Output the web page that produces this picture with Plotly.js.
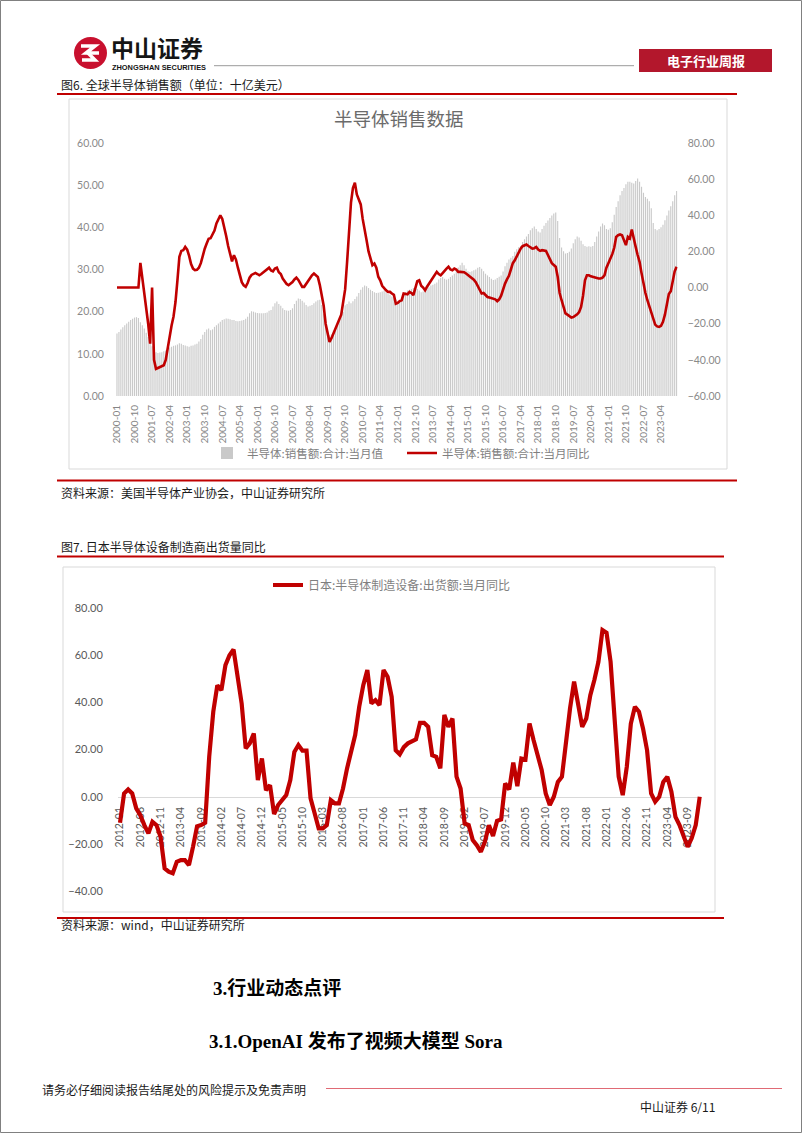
<!DOCTYPE html>
<html><head><meta charset="utf-8">
<script src="https://cdn.plot.ly/plotly-3.0.1.min.js"></script>
<style>html,body{margin:0;padding:0;background:#fff}#page{width:802px;height:1133px}</style>
</head><body><div id="page"></div>
<script>
// ---------- Chart 1: 全球半导体销售额 (2000-01 .. 2023-12) ----------
const salesYears = [2000, 2023];
const salesValue = [
  14.8,15.2,15.8,16.3,16.8,17.2,17.6,18.0,18.3,18.6,18.7,18.5,
  17.5,16.8,16.0,15.0,14.0,12.8,11.8,11.0,10.4,10.2,10.3,10.4,
  10.6,10.8,11.2,11.5,11.7,11.9,12.0,12.2,12.5,12.4,12.1,12.0,
  11.8,11.7,11.9,12.0,12.2,12.4,12.9,13.5,14.5,15.2,15.8,16.0,
  15.6,15.8,16.4,16.8,17.2,17.6,18.0,18.2,18.4,18.3,18.2,18.0,
  18.0,17.8,17.7,17.8,17.9,18.0,18.3,18.8,19.6,20.1,20.0,19.8,
  19.7,19.6,19.6,19.6,19.7,19.8,20.2,20.4,21.2,22.0,22.4,21.8,
  21.4,20.8,20.4,20.3,20.2,20.4,20.8,21.8,22.6,23.1,23.0,22.6,
  22.2,21.6,21.2,21.4,21.6,22.0,22.4,22.7,22.8,21.6,19.5,17.0,
  15.3,14.4,14.6,15.5,16.2,17.0,17.9,18.8,20.0,21.5,21.8,22.4,
  22.0,22.5,23.0,23.6,24.4,25.2,25.8,26.2,26.0,25.6,25.2,24.9,
  24.6,24.4,24.5,24.6,24.8,25.0,24.6,24.2,24.0,23.6,23.2,22.8,
  22.5,22.4,23.0,23.8,24.6,25.0,25.2,25.4,25.6,25.8,25.4,25.0,
  24.6,24.8,25.2,25.6,25.8,26.2,26.4,26.6,26.9,27.6,28.0,28.2,
  27.8,27.6,27.8,28.2,28.6,29.0,29.8,30.5,31.0,31.6,31.0,30.2,
  29.6,29.4,29.6,29.8,30.0,30.4,30.6,30.2,29.6,29.0,28.6,28.2,
  27.8,27.5,27.6,28.0,28.3,28.6,29.5,30.8,31.6,32.4,32.8,33.2,
  34.2,34.8,35.3,35.6,36.5,37.2,37.8,38.4,39.3,39.8,40.2,39.6,
  39.0,38.8,39.6,40.4,41.0,41.6,42.2,42.8,43.3,43.5,41.5,37.5,
  35.2,34.3,33.8,33.9,34.2,35.0,36.2,37.2,37.8,37.6,36.8,36.0,
  35.6,35.4,35.5,35.4,35.6,36.5,37.8,39.0,40.2,40.9,40.5,39.6,
  39.4,39.8,41.2,43.0,44.8,46.2,47.6,48.6,49.3,50.2,50.8,50.8,
  50.6,50.4,51.0,51.6,50.8,49.6,48.2,47.2,46.8,46.2,44.5,41.0,
  39.6,39.3,39.6,40.0,40.6,41.7,42.8,44.0,45.0,46.2,47.6,48.6
];
const salesYoY = [
  0,0,0,0,0,0,0,0,0,0,0,0,
  13.7,6,-2,-10,-20,-31,0,-40,-45,-44.5,-44,-43.5,
  -43,-40,-33,-27,-21,-16,-8,4,17,20.3,20.7,22.5,
  21,17.5,13,10.5,9.6,9.8,11,13.5,18,21.5,24.4,27,
  27.3,29.5,31.5,35.5,37.5,40,38,34,28.5,23,18.8,14.5,
  17.9,15.5,11,7.5,3,1.2,0.4,2.5,5.5,7,7.8,8.1,
  7.5,6.8,7.5,8.5,9,10.2,11,9.5,9,10.5,11,8.5,
  7.5,5,3.1,2,1.3,2,3.1,4.5,5.5,4.2,2,0.4,
  0.4,2,4,5.9,6.8,7.8,7,5.9,1.5,-3.3,-10,-20,
  -26,-30.1,-28,-25.5,-23,-20.5,-18,-15,-8,-1,14,33,
  47,55,58,51.5,49,46,38,31,26.2,20,15.5,12.4,
  13.3,11,6,4,1,-0.6,-1.5,-2.4,-2.4,-3.3,-4,-8.9,
  -8.5,-7.5,-7,-3.3,-3.5,-3.7,-2.4,-3,-4.2,0,3.5,4,
  1,0,-1.5,0.5,2.2,4,5.9,7.5,8.7,7.5,6.8,8,
  9.5,10.5,11.5,10,9.6,10.5,10,8.7,8.7,8.7,8.5,7.8,
  7,5.8,5,4.4,3,0.8,-1.5,-3.3,-3,-4,-5.2,-5.5,
  -5.8,-6.1,-6.5,-7.5,-6.5,-4.5,-1,2.2,4.5,6.5,10,13.5,
  15.1,17.5,20,21.5,22.9,23.5,23.8,23,22.2,21.6,21.8,22.5,
  21,20.3,20.7,20.5,20.3,18,16.1,13.5,12.5,11.5,6,-3,
  -7,-11,-14.3,-15,-15.8,-16.6,-16.3,-15.6,-14.8,-13.5,-10.7,-4.5,
  4,6.8,6.8,6.2,5.9,5.3,5,5,5,5.5,6.8,11,
  13.5,15.8,18.5,22,28,29,29.4,29,26,23.5,28.1,27.2,
  32.1,26.2,22.5,18,14.2,8,2,-3,-7,-10.7,-14.5,-17.7,
  -20.5,-21.5,-21.8,-21.2,-19,-15,-8,-3.5,-2,4,9,11.5
];
const salesTicks = ["2000-01","2000-10","2001-07","2002-04","2003-01","2003-10","2004-07","2005-04",
  "2006-01","2006-10","2007-07","2008-04","2009-01","2009-10","2010-07","2011-04","2012-01","2012-10",
  "2013-07","2014-04","2015-01","2015-10","2016-07","2017-04","2018-01","2018-10","2019-07","2020-04",
  "2021-01","2021-10","2022-07","2023-04"];

// ---------- Chart 2: 日本半导体制造设备出货额同比 (2012-01 .. 2023-12) ----------
const jpYears = [2012, 2023];
const jpYoY = [
  -11,1.4,3.1,1.4,-4.9,-7.8,-12,-15.5,-10.6,-12,-16.9,-30.3,
  -31.7,-32.4,-27.5,-26.8,-26.8,-28.9,-21.2,-12.5,-12,-11,17,36,
  47.2,45.1,55.7,59.9,62.3,52.2,39.5,20.5,22.6,26.8,7.1,16.2,
  2.8,4.9,-7.3,-3.5,-1.1,0.7,7.1,19,21.9,19.5,19.5,-0.7,
  -7,-13.4,-13.4,-12,-1.4,-2.8,-2.8,3.5,12,18.3,26.1,38.1,
  47.2,53.6,39.5,40.9,38.8,53.6,50.8,42.3,19.7,18,21,22.6,
  23.5,24.3,31.3,31.3,29.6,17.6,16.9,12,34.6,29.6,33.1,8.5,
  3.5,-11.3,-12,-18.3,-20.5,-23.3,-19,-12,-16.6,-10.2,-9.6,5.6,
  3.1,14.5,4.5,16.2,15.8,31,24,18.3,11.3,1.4,-3.5,0,
  6.3,8.5,24,37.4,48.7,39.5,29.6,33.1,43,49.4,57.1,70.5,
  69.4,57.1,33.9,8.5,0.7,12.7,31,38.1,36,28.9,19.7,1.4,
  -2.1,0,6.3,8.5,2.1,-8.5,-12,-16.2,-21.2,-17.6,-12,0
];
const jpTicks = ["2012-01","2012-06","2012-11","2013-04","2013-09","2014-02","2014-07","2014-12",
  "2015-05","2015-10","2016-03","2016-08","2017-01","2017-06","2017-11","2018-04","2018-09","2019-02",
  "2019-07","2019-12","2020-05","2020-10","2021-03","2021-08","2022-01","2022-06","2022-11","2023-04","2023-09"];

function monthCats(y0, y1) {
  const out = [];
  for (let y = y0; y <= y1; y++) for (let m = 1; m <= 12; m++) out.push(y + "-" + String(m).padStart(2, "0"));
  return out;
}
const salesMonths = monthCats(salesYears[0], salesYears[1]);
const jpMonths = monthCats(jpYears[0], jpYears[1]);

// ---------- page geometry helpers (pixels -> paper) ----------
const W = 802, H = 1133;
const fx = x => x / W, fy = y => 1 - y / H;
const RED = "#c00000";
const CJK = "'Noto Sans CJK SC', sans-serif";
const NUM = "Lato, 'Noto Sans CJK SC', sans-serif";

function hline(x0, x1, y, color, width) {
  return {type: "line", xref: "paper", yref: "paper", x0: fx(x0), x1: fx(x1), y0: fy(y), y1: fy(y),
          line: {color: color, width: width}};
}
function rect(x0, y0, x1, y1, opts) {
  return Object.assign({type: "rect", xref: "paper", yref: "paper", x0: fx(x0), x1: fx(x1), y0: fy(y1), y1: fy(y0)}, opts);
}
function txt(text, x, y, size, opts) {
  return Object.assign({text: text, xref: "paper", yref: "paper", x: fx(x), y: fy(y), xanchor: "left", yanchor: "middle",
    showarrow: false, font: {family: CJK, size: size, color: "#1a1a1a"}}, opts || {});
}
function pathPx(pts) {
  return pts.map((p, i) => (i ? "L" : "M") + fx(p[0]).toFixed(5) + "," + fy(p[1]).toFixed(5)).join(" ");
}

const shapes = [
  rect(0.5, 0.5, 801.5, 1132.5, {line: {color: "#808080", width: 1}, layer: "above"}),
  // logo
  {type: "circle", xref: "paper", yref: "paper", x0: fx(74), x1: fx(107), y0: fy(69), y1: fy(37),
   fillcolor: "#c8102e", line: {width: 0}},
  {type: "path", xref: "paper", yref: "paper", path: pathPx([[81,46],[95,46],[86,53],[99,53]]), line: {color: "#fff", width: 3.5}},
  {type: "path", xref: "paper", yref: "paper", path: pathPx([[82,60],[95,60],[88,53]]), line: {color: "#fff", width: 3.5}},
  hline(214, 634, 65.7, "#9a9a9a", 1),
  rect(639, 49, 772, 72, {fillcolor: "#b3172c", line: {width: 0}}),
  // figure rules
  hline(57, 737, 94, RED, 2),
  hline(57, 737, 480.5, RED, 2),
  hline(57, 724, 556.5, RED, 2),
  hline(57, 724, 918, RED, 2),
  // chart frames
  rect(69, 99, 727, 469, {line: {color: "#d9d9d9", width: 1}, layer: "below"}),
  rect(63, 567, 715, 912, {line: {color: "#d9d9d9", width: 1}, layer: "below"}),
  // footer rule
  hline(326, 782, 1088.5, "#e06a75", 1.2)
];

const annotations = [
  txt("<b>中山证券</b>", 110, 46.5, 23, {font: {family: CJK, size: 23, color: "#151515"}, borderpad: 0}),
  txt("<b>ZHONGSHAN SECURITIES</b>", 111, 67.5, 7.4, {font: {family: "'Liberation Sans', Arial, sans-serif", size: 7.4, color: "#151515"}, borderpad: 0}),
  txt("<b>电子行业周报</b>", 705.5, 60.5, 13, {xanchor: "center", font: {family: CJK, size: 13, color: "#ffffff"}}),
  txt("图6. 全球半导体销售额（单位：十亿美元）", 59, 84.5, 12),
  txt("半导体销售数据", 399, 118, 18.5, {xanchor: "center", font: {family: CJK, size: 18.5, color: "#6b6b6b"}}),
  txt("资料来源：美国半导体产业协会，中山证券研究所", 59, 492.5, 12),
  txt("图7. 日本半导体设备制造商出货量同比", 59, 546, 12),
  txt("资料来源：wind，中山证券研究所", 59, 924, 12),
  txt("<b>3.行业动态点评</b>", 211, 988, 19, {font: {family: "'Liberation Serif', 'Noto Sans CJK SC', serif", size: 19, color: "#000"}}),
  txt("<b>3.1.OpenAI 发布了视频大模型 Sora</b>", 207, 1041, 19, {font: {family: "'Liberation Serif', 'Noto Sans CJK SC', serif", size: 19, color: "#000"}}),
  txt("请务必仔细阅读报告结尾处的风险提示及免责声明", 40, 1089, 12),
  txt("中山证券 6/11", 638, 1106, 12)
];

const traces = [
  {type: "bar", name: "半导体:销售额:合计:当月值", x: salesMonths, y: salesValue, xaxis: "x", yaxis: "y",
   marker: {color: "#c9c9c9", line: {width: 0}}, legend: "legend", hoverinfo: "skip"},
  {type: "scatter", mode: "lines", name: "半导体:销售额:合计:当月同比", x: salesMonths, y: salesYoY, xaxis: "x", yaxis: "y2",
   line: {color: RED, width: 2.6}, legend: "legend", hoverinfo: "skip"},
  {type: "scatter", mode: "lines", name: "日本:半导体制造设备:出货额:当月同比", x: jpMonths, y: jpYoY, xaxis: "x2", yaxis: "y3",
   line: {color: RED, width: 4.2}, legend: "legend2", hoverinfo: "skip"}
];

const c1 = {left: 116, right: 677.6, top: 143, bottom: 396};
const c2 = {left: 118, right: 701.8, top: 607.7, bottom: 891.3};

const layout = {
  width: W, height: H,
  margin: {l: 0, r: 0, t: 0, b: 0, pad: 0},
  paper_bgcolor: "#fff", plot_bgcolor: "rgba(0,0,0,0)",
  font: {family: NUM, color: "#7f7f7f"},
  showlegend: true,
  bargap: 0.42,
  xaxis: {type: "category", domain: [fx(c1.left), fx(c1.right)], range: [-0.5, salesMonths.length - 0.5],
    anchor: "y", tickmode: "array", tickvals: salesTicks, ticktext: salesTicks, tickangle: -90,
    tickfont: {family: NUM, size: 10, color: "#858585"}, ticks: "outside", ticklen: 4, tickcolor: "rgba(0,0,0,0)",
    showgrid: false, zeroline: false, showline: false, fixedrange: true},
  yaxis: {domain: [fy(c1.bottom), fy(c1.top)], range: [0, 60], dtick: 10, tickformat: ".2f", anchor: "x",
    tickfont: {family: NUM, size: 10.5, color: "#8a8a8a"}, ticks: "outside", ticklen: 9, tickcolor: "rgba(0,0,0,0)",
    showgrid: false, zeroline: false, showline: false},
  yaxis2: {overlaying: "y", side: "right", anchor: "x", range: [-60, 80], dtick: 20, tickformat: ".2f",
    tickfont: {family: NUM, size: 10.5, color: "#8a8a8a"}, ticks: "outside", ticklen: 7, tickcolor: "rgba(0,0,0,0)",
    showgrid: false, zeroline: false, showline: false},
  xaxis2: {type: "category", domain: [fx(c2.left), fx(c2.right)], range: [-0.5, jpMonths.length - 0.5],
    anchor: "free", position: fy(c2.top + (c2.bottom - c2.top) * 80 / 120), layer: "below traces",
    tickmode: "array", tickvals: jpTicks, ticktext: jpTicks, tickangle: -90,
    tickfont: {family: NUM, size: 10.5, color: "#595959"}, ticks: "outside", ticklen: 5, tickcolor: "rgba(0,0,0,0)",
    showgrid: false, zeroline: false, showline: true, linecolor: "#d9d9d9", linewidth: 1},
  yaxis3: {domain: [fy(c2.bottom), fy(c2.top)], range: [-40, 80], dtick: 20, tickformat: ".2f", anchor: "x2",
    tickfont: {family: NUM, size: 11, color: "#595959"}, ticks: "outside", ticklen: 12, tickcolor: "rgba(0,0,0,0)",
    showgrid: false, zeroline: false, showline: false},
  legend: {orientation: "h", x: fx(207), y: fy(453), xanchor: "left", yanchor: "middle",
    font: {family: CJK, size: 11.5, color: "#7f7f7f"}, bgcolor: "rgba(0,0,0,0)", itemwidth: 30,
    entrywidth: 150, entrywidthmode: "pixels", traceorder: "normal"},
  legend2: {orientation: "h", x: fx(268), y: fy(585), xanchor: "left", yanchor: "middle",
    font: {family: CJK, size: 12, color: "#7f7f7f"}, bgcolor: "rgba(0,0,0,0)", itemwidth: 30},
  shapes: shapes,
  annotations: annotations
};

Plotly.newPlot("page", traces, layout, {displayModeBar: false, staticPlot: true});
</script></body></html>
